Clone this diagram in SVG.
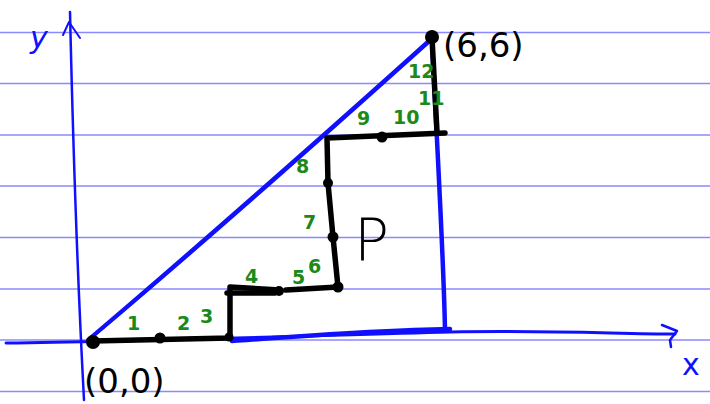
<svg xmlns="http://www.w3.org/2000/svg" width="710" height="404" viewBox="0 0 710 404">
<style>
.rule{stroke:#8a8aff;stroke-width:1.5}
.blue{stroke:#1010ff;fill:none;stroke-linecap:round;stroke-linejoin:round}
.blk{stroke:#000;fill:none;stroke-width:5.5;stroke-linecap:round;stroke-linejoin:round}
.dot{fill:#000}
.g{fill:#1b8a1b;font-family:"DejaVu Sans",sans-serif;font-size:19px;font-weight:bold}
.k{fill:#000;font-family:"DejaVu Sans",sans-serif}
.bt{fill:#1010ff;font-family:"DejaVu Sans",sans-serif}
</style>
<rect width="710" height="404" fill="#fff"/>
<g id="rules">
<line class="rule" x1="0" y1="32.5" x2="710" y2="32.5"/>
<line class="rule" x1="0" y1="83.5" x2="710" y2="83.5"/>
<line class="rule" x1="0" y1="135" x2="710" y2="135"/>
<line class="rule" x1="0" y1="186" x2="710" y2="186"/>
<line class="rule" x1="0" y1="237.5" x2="710" y2="237.5"/>
<line class="rule" x1="0" y1="289" x2="710" y2="289"/>
<line class="rule" x1="0" y1="340" x2="710" y2="340"/>
<line class="rule" x1="0" y1="391.5" x2="710" y2="391.5"/>
</g>
<g id="axes">
<path class="blue" stroke-width="2.5" d="M70 12 C72 100 76 250 84 400"/>
<path class="blue" stroke-width="2" d="M63 35 L69 22 L80 38"/>
<path class="blue" stroke-width="3" d="M6 343 C150 341 300 336 450 332 C550 330 620 334 675 334"/>
<path class="blue" stroke-width="2.5" d="M662 325 L677 331 L670 340 L671 347"/>
<text class="bt" x="30" y="48" font-size="30" font-style="italic">y</text>
<text class="bt" x="682" y="375" font-size="30">x</text>
</g>
<g id="triangle">
<path class="blue" stroke-width="4" d="M88 340 C180 262 330 130 432 38"/>
<path class="blue" stroke-width="2" d="M93 337 C185 260 332 130 430 42"/>
<path class="blue" stroke-width="4.5" d="M432 40 C434 80 436 120 438 160 C441 220 444 280 445 330"/>
<path class="blue" stroke-width="4.5" d="M232 341 C300 336 380 330 450 329"/>
</g>
<g id="path">
<path class="blk" d="M92 341 L230 338 L230 287 L280 290"/>
<path class="blk" d="M227 293 L275 293"/>
<path class="blk" d="M286 290 L338 287 L333 237 L328 183 L327 138 L445 133"/>
<path class="blk" d="M432 38 L437 132"/>
<circle class="dot" cx="93" cy="342" r="7"/>
<circle class="dot" cx="160" cy="338" r="5.5"/>
<circle class="dot" cx="229" cy="337" r="4.5"/>
<circle class="dot" cx="279" cy="291" r="5"/>
<circle class="dot" cx="338" cy="287" r="5.5"/>
<circle class="dot" cx="333" cy="237" r="5.5"/>
<circle class="dot" cx="328" cy="183" r="5"/>
<circle class="dot" cx="382" cy="137" r="5.5"/>
<circle class="dot" cx="432" cy="37" r="7"/>
</g>
<g id="labels">
<text class="k" x="443" y="57" font-size="34">(6,6)</text>
<text class="k" x="84" y="393" font-size="34">(0,0)</text>
<text class="k" x="354" y="260" font-size="58" font-weight="300">P</text>
<text class="g" x="127" y="330">1</text>
<text class="g" x="177" y="330">2</text>
<text class="g" x="200" y="323">3</text>
<text class="g" x="245" y="283">4</text>
<text class="g" x="292" y="284">5</text>
<text class="g" x="308" y="273">6</text>
<text class="g" x="303" y="229">7</text>
<text class="g" x="296" y="173">8</text>
<text class="g" x="357" y="125">9</text>
<text class="g" x="393" y="124" font-size="18">10</text>
<text class="g" x="418" y="105" font-size="12">11</text>
<text class="g" x="408" y="78">12</text>
</g>
</svg>
